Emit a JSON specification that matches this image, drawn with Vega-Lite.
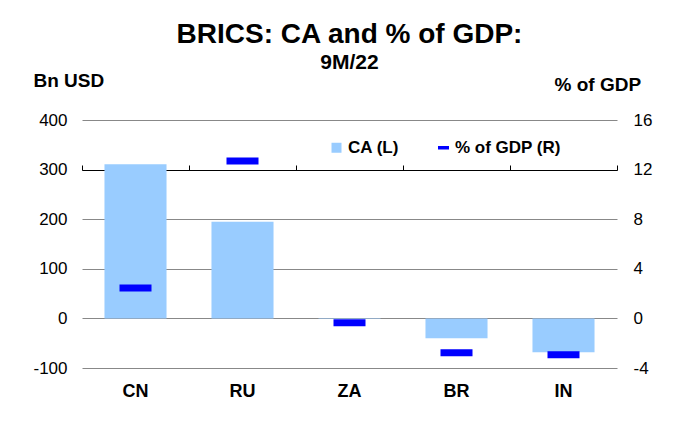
{
  "$schema": "https://vega.github.io/schema/vega-lite/v6.json",
  "width": 535,
  "height": 248,
  "autosize": "none",
  "padding": {"left": 82, "top": 120, "right": 64, "bottom": 60},
  "background": "white",
  "config": {
    "font": "Liberation Sans",
    "view": {"stroke": null},
    "axis": {"labelFont": "Liberation Sans", "titleFont": "Liberation Sans", "labelColor": "black", "titleColor": "black"}
  },
  "title": {
    "text": "BRICS: CA and % of GDP:",
    "subtitle": "9M/22",
    "anchor": "middle",
    "fontSize": 28,
    "fontWeight": "bold",
    "color": "black",
    "subtitleFontSize": 21,
    "subtitleFontWeight": "bold",
    "subtitleColor": "black",
    "subtitlePadding": 3,
    "offset": -2
  },
  "data": {
    "values": [
      {"country": "CN", "CA": 311, "GDP": 2.45},
      {"country": "RU", "CA": 195, "GDP": 12.7},
      {"country": "ZA", "CA": -1, "GDP": -0.35},
      {"country": "BR", "CA": -40, "GDP": -2.78},
      {"country": "IN", "CA": -68, "GDP": -2.94}
    ]
  },
  "layer": [
    {
      "mark": {"type": "bar", "width": {"band": 0.58}},
      "encoding": {
        "x": {
          "field": "country", "type": "nominal", "sort": ["CN", "RU", "ZA", "BR", "IN"],
          "scale": {"paddingInner": 0, "paddingOuter": 0},
          "axis": {"title": null, "labelAngle": 0, "labelFontSize": 18, "labelFontWeight": "bold", "ticks": false, "domain": false, "labelPadding": 14}
        },
        "y": {
          "field": "CA", "type": "quantitative",
          "scale": {"domain": [-100, 400], "nice": false, "zero": false},
          "axis": {
            "values": [-100, 0, 100, 200, 300, 400],
            "labelExpr": "'' + datum.value",
            "title": "Bn USD", "titleAngle": 0, "titleAlign": "left", "titleBaseline": "alphabetic",
            "titleX": -49, "titleY": -34, "titleFontSize": 19, "titleFontWeight": "bold",
            "labelFontSize": 17, "labelPadding": 15, "ticks": false, "domain": false,
            "grid": true, "gridColor": "#888888", "gridWidth": 1
          }
        },
        "color": {
          "datum": "CA (L)",
          "scale": {"domain": ["CA (L)", "% of GDP (R)"], "range": ["#99CCFF", "#0000FF"]},
          "legend": {
            "title": null, "orient": "none", "direction": "horizontal",
            "legendX": 246, "legendY": 19, "padding": 0,
            "labelFontSize": 17, "labelFontWeight": "bold", "labelColor": "black",
            "labelOffset": 3, "columnPadding": 36, "symbolSize": 100,
            "encode": {
              "symbols": {
                "update": {
                  "shape": {"signal": "datum.value === 'CA (L)' ? 'square' : 'M-1.1,-0.35L1.1,-0.35L1.1,0.35L-1.1,0.35Z'"},
                  "fill": {"signal": "datum.value === 'CA (L)' ? '#99CCFF' : '#0000FF'"},
                  "stroke": {"value": null},
                  "opacity": {"value": 1}
                }
              }
            }
          }
        }
      }
    },
    {
      "mark": {"type": "tick", "size": 32, "thickness": 7, "opacity": 1},
      "encoding": {
        "x": {
          "field": "country", "type": "nominal", "sort": ["CN", "RU", "ZA", "BR", "IN"],
          "axis": {"title": null, "labels": false, "ticks": true, "tickBand": "extent", "tickSize": 5, "tickColor": "black", "domain": true, "domainColor": "black", "domainWidth": 1, "offset": -50}
        },
        "y": {
          "field": "GDP", "type": "quantitative",
          "scale": {"domain": [-4, 16], "nice": false, "zero": false},
          "axis": {
            "orient": "right",
            "values": [-4, 0, 4, 8, 12, 16],
            "labelExpr": "'' + datum.value",
            "title": "% of GDP", "titleAngle": 0, "titleAlign": "left", "titleBaseline": "alphabetic",
            "titleX": -63, "titleY": -30, "titleFontSize": 19, "titleFontWeight": "bold",
            "labelFontSize": 17, "labelPadding": 16, "ticks": false, "domain": false, "grid": false
          }
        },
        "color": {"datum": "% of GDP (R)"}
      }
    }
  ],
  "resolve": {"scale": {"y": "independent"}, "axis": {"x": "independent"}}
}
